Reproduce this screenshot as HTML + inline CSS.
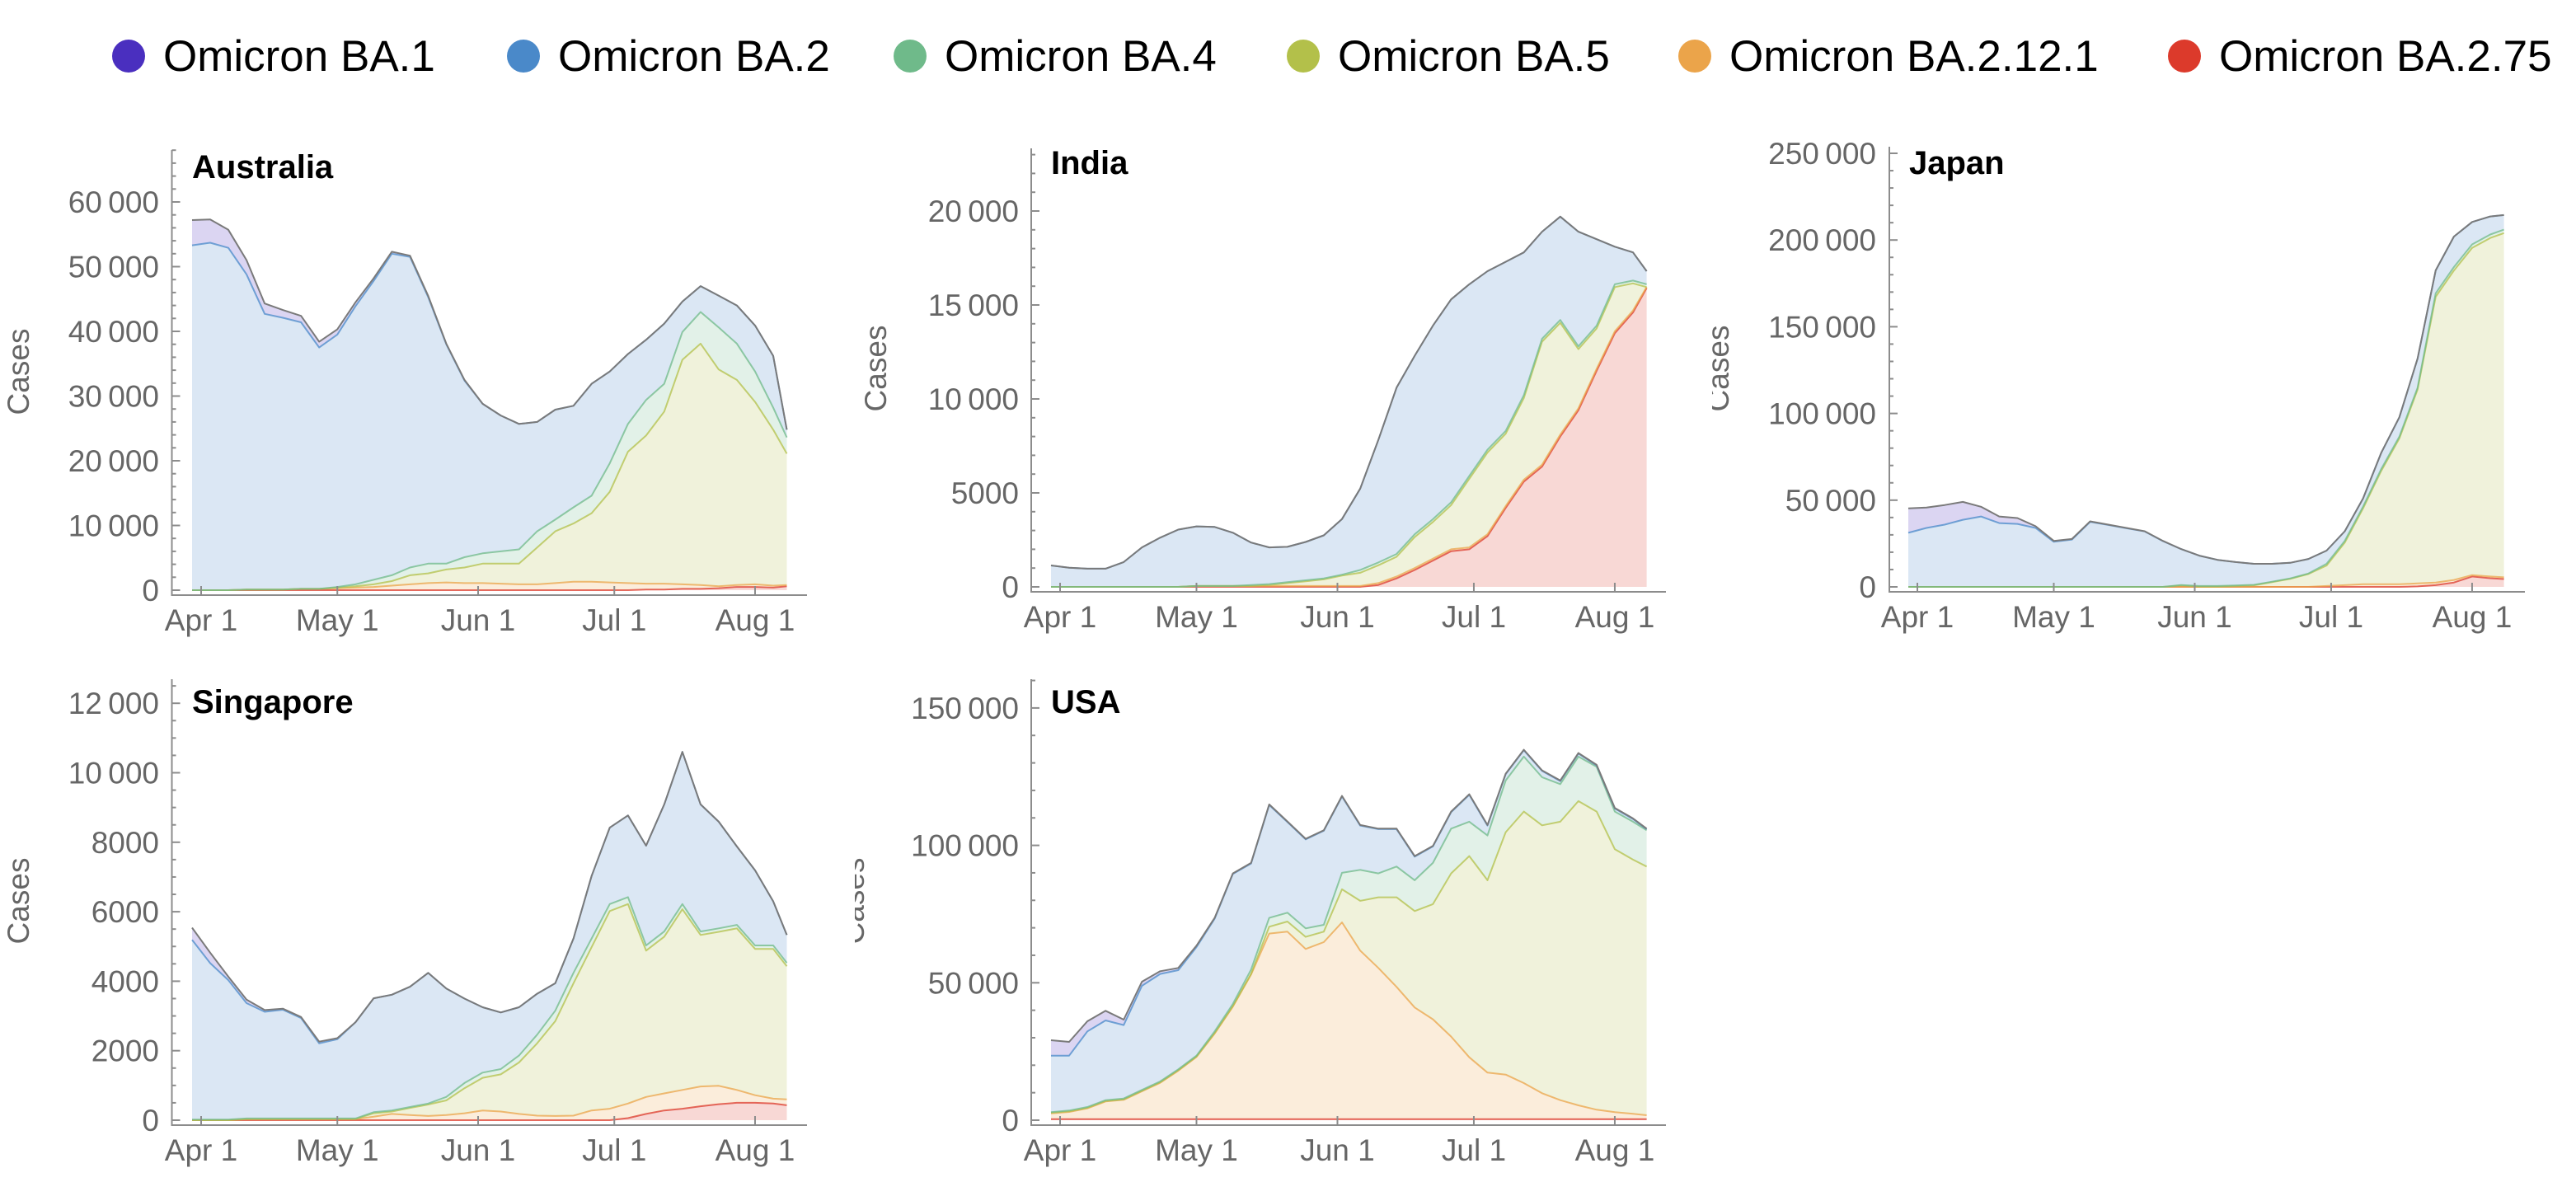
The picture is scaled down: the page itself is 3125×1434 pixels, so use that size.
<!DOCTYPE html>
<html><head><meta charset="utf-8">
<style>
html,body{margin:0;padding:0;background:#fff;}
svg{display:block;font-family:"Liberation Sans",Arial,sans-serif;}
</style></head>
<body>
<svg id="chart" width="3125" height="1434" viewBox="0 0 3125 1434" xmlns="http://www.w3.org/2000/svg">
<rect width="3125" height="1434" fill="#fff"/>
<g id="legend"></g>
<g id="panels"></g>
</svg>
<script>
// ---- data (cases in thousands), sampled every 4 days; day 0 = Apr 1 ----
const days = [-2,2,6,10,14,18,22,26,30,34,38,42,46,50,54,58,62,66,70,74,78,82,86,90,94,98,102,106,110,114,118,122,126,129];
const variantNames = ["Omicron BA.1","Omicron BA.2","Omicron BA.4","Omicron BA.5","Omicron BA.2.12.1","Omicron BA.2.75"];
const tickDates = [0,30,61,91,122];
const tickDateLabels = ["Apr 1","May 1","Jun 1","Jul 1","Aug 1"];

const ausBA1 = [3.9,3.6,2.8,2.2,1.6,1.2,1.0,0.9,0.8,0.6,0.4,0.3,0.2,0.2,0.1,0.1,0,0,0,0,0,0,0,0,0,0,0,0,0,0,0,0,0,0];
const ausBA2 = [53.3,53.7,52.9,48.7,42.6,42.0,41.2,37.3,39.0,43.0,46.2,49.7,48.0,41.2,33.9,27.3,23.1,21.0,19.4,16.9,17.0,15.7,17.3,14.2,10.8,9.3,9.3,4.7,4.0,4.9,5.9,7.1,8.0,1.2];
const ausBA4 = [0,0,0,0,0,0,0,0,0.1,0.3,0.7,0.9,1.2,1.5,0.9,1.6,1.6,1.9,2.2,2.5,1.8,2.5,2.7,4.4,4.3,5.5,4.3,4.3,4.9,6.5,5.6,4.7,3.4,2.5];
const ausBA5 = [0,0,0,0,0,0,0,0,0.1,0.2,0.4,0.7,1.4,1.5,2.0,2.4,3.0,3.1,3.2,5.7,8.0,9.0,10.6,14.0,20.3,22.9,26.6,34.7,37.3,33.5,31.7,28.2,24.1,20.3];
const ausBA2121 = [0,0,0,0.1,0.1,0.1,0.2,0.2,0.3,0.4,0.5,0.7,0.9,1.1,1.2,1.1,1.1,1.0,0.9,0.9,1.1,1.3,1.3,1.2,1.1,0.9,0.9,0.7,0.6,0.3,0.3,0.4,0.3,0.2];
const ausBA275 = [0,0,0,0,0,0,0,0,0,0,0,0,0,0,0,0,0,0,0,0,0,0,0,0,0,0.1,0.1,0.2,0.2,0.3,0.5,0.5,0.4,0.6];

const indBA1 = [0,0,0,0,0,0,0,0,0,0,0,0,0,0,0,0,0,0,0,0,0,0,0,0,0,0,0,0,0,0,0,0,0,0];
const indBA2 = [1.14,1.02,0.97,0.97,1.32,2.10,2.62,3.05,3.17,3.14,2.83,2.26,1.95,1.88,2.04,2.29,2.96,4.33,6.52,8.85,9.5,10.3,10.8,10.2,9.5,9.0,7.6,5.7,5.5,6.1,4.6,2.0,1.5,0.7];
const indBA4 = [0,0,0,0,0,0,0,0,0,0,0,0.05,0.05,0.05,0.05,0.05,0.05,0.15,0.15,0.15,0.15,0.15,0.15,0.15,0.15,0.15,0.15,0.15,0.15,0.15,0.15,0.15,0.15,0.15];
const indBA5 = [0,0,0,0,0,0,0,0,0,0,0,0,0.05,0.15,0.25,0.35,0.55,0.7,0.95,1.05,1.65,1.95,2.35,3.65,4.35,3.85,4.35,6.55,5.95,3.15,2.15,2.35,1.45,0];
const indBA2121 = [0,0,0,0,0,0,0,0,0.05,0.05,0.05,0.05,0.05,0.05,0.05,0.05,0.05,0.05,0.1,0.1,0.1,0.1,0.1,0.1,0.1,0.1,0.1,0.1,0.1,0.1,0.1,0.1,0.1,0.05];
const indBA275 = [0,0,0,0,0,0,0,0,0,0,0,0,0,0,0,0,0,0,0.1,0.45,0.9,1.4,1.9,2.0,2.7,4.2,5.6,6.4,8.0,9.4,11.5,13.5,14.6,15.9];

const jpnBA1 = [14.1,11.7,11.3,10.3,5.6,3.8,3.4,1.0,0.5,0.3,0.3,0.2,0.2,0.1,0.1,0,0,0,0,0,0,0,0,0,0,0,0,0,0,0,0,0,0,0];
const jpnBA2 = [31.2,34.0,35.9,38.7,40.6,36.8,36.3,34.0,26.0,27.3,37.5,35.7,33.8,32.0,26.4,20.7,17.5,15.1,13.5,12.1,10.3,9.0,8.4,7.6,5.6,4.7,9.4,11.2,16.8,13.2,17.6,12.9,10.4,8.4];
const jpnBA4 = [0,0,0,0,0,0,0,0,0,0,0,0,0,0,0,0.3,0.3,0.3,0.3,0.3,0.3,0.3,0.3,1,1,1,1,1,1,2,2,2,2,2];
const jpnBA5 = [0,0,0,0,0,0,0,0,0,0,0,0,0,0,0,0.8,0.2,0.2,0.5,0.9,2.7,4.6,7.4,11.8,24.5,43.7,65.3,84.1,111.8,164.8,178.4,188.7,195.2,198.5];
const jpnBA2121 = [0,0,0,0,0,0,0,0,0,0,0,0,0,0,0,0,0,0,0,0,0,0,0,0.5,1.0,1.5,1.5,1.5,1.7,1.5,1.5,0.8,1.0,1.0];
const jpnBA275 = [0,0,0,0,0,0,0,0,0,0,0,0,0,0,0,0,0,0,0,0,0,0,0,0,0,0,0,0,0.3,1.0,2.5,6.0,5.0,4.5];

const sgpBA1 = [0.35,0.3,0.1,0.1,0.05,0.03,0.03,0.05,0.03,0,0,0,0,0,0,0,0,0,0,0,0,0,0,0,0,0,0,0,0,0,0,0,0,0];
const sgpBA2 = [5.17,4.5,4.01,3.32,3.07,3.13,2.89,2.16,2.28,2.77,3.28,3.33,3.46,3.76,3.12,2.43,1.88,1.63,1.39,1.18,0.79,0.99,1.8,2.2,2.35,2.87,3.66,4.38,3.66,3.07,2.26,2.16,1.27,0.8];
const sgpBA4 = [0.02,0.02,0.02,0.02,0.02,0.02,0.02,0.02,0.02,0.02,0.03,0.03,0.03,0.03,0.1,0.15,0.15,0.15,0.2,0.25,0.3,0.3,0.25,0.2,0.2,0.15,0.15,0.15,0.1,0.1,0.1,0.1,0.1,0.1];
const sgpBA5 = [0,0,0,0,0,0,0,0,0,0,0.1,0.07,0.2,0.33,0.42,0.72,0.94,1.07,1.48,2.08,2.73,3.81,4.7,5.69,5.74,4.21,4.51,5.2,4.36,4.43,4.65,4.21,4.31,3.83];
const sgpBA2121 = [0,0,0,0.03,0.03,0.03,0.03,0.03,0.03,0.03,0.1,0.18,0.15,0.12,0.15,0.2,0.28,0.25,0.18,0.13,0.12,0.13,0.28,0.33,0.42,0.49,0.49,0.54,0.57,0.53,0.37,0.22,0.14,0.17];
const sgpBA275 = [0,0,0,0,0,0,0,0,0,0,0,0,0,0,0,0,0,0,0,0,0,0,0,0,0.06,0.18,0.28,0.33,0.4,0.46,0.5,0.5,0.48,0.43];

const usaBA1 = [5.6,5,3.7,3.5,2,1.5,1.0,0.8,0.5,0.3,0.2,0.2,0.2,0.2,0.2,0.2,0.2,0.2,0.2,0.2,0.2,0.2,0.2,0.2,0.2,0.2,0.2,0.2,0.2,0.2,0.2,0.2,0.2,0.2];
const usaBA2 = [20.6,20.0,27.5,29.0,26.7,37.9,39.1,36.1,39.5,41.0,47.3,38.6,41.1,33.0,32.4,34.2,27.8,16.1,16.1,13.6,8.6,6.0,6.0,9.8,3.6,2.3,2.3,2.3,1.1,1.1,0.5,1.1,1.0,0.4];
const usaBA4 = [0.2,0.3,0.3,0.3,0.3,0.3,0.3,0.3,0.3,0.6,0.8,1.6,3.2,3.2,3.1,2.5,6,11.3,8.7,11.2,11.2,15.0,16.3,12.5,16.3,18.8,20.0,17.5,13.7,16.2,16.3,13.7,13.8,13.2];
const usaBA5 = [0.2,0.2,0.2,0.2,0.2,0.2,0.2,0.2,0.2,0.2,0.2,0.2,2.5,3.7,4.4,3.8,12,18.1,25.7,32.6,35.1,41.9,59.4,73.2,70.0,88.2,98.8,97.5,101.3,110.7,108.5,95.7,92.5,90.5];
const usaBA2121 = [2.1,2.6,3.9,6.4,7.0,10.1,13.2,17.6,22.6,31.1,40.9,52.6,67.5,68.2,61.9,64.4,71.6,61.3,55.0,48.1,40.6,36.3,30.0,22.5,16.9,16.2,13.1,9.4,6.9,5.0,3.4,2.5,1.9,1.4];
const usaBA275 = [0.4,0.4,0.4,0.4,0.4,0.4,0.4,0.4,0.4,0.4,0.4,0.4,0.4,0.4,0.4,0.4,0.4,0.4,0.4,0.4,0.4,0.4,0.4,0.4,0.4,0.4,0.4,0.4,0.4,0.4,0.4,0.4,0.4,0.4];

// ---- styling / layout ----
const NS = "http://www.w3.org/2000/svg";
const colors = ["#4a2fbf","#4a89c9","#6fba8a","#b3c04a","#eba44a","#dc3a2b"];
const legendX = [156,635,1104,1581,2056,2650];

function mk(tag, attrs, parent) {
  const el = document.createElementNS(NS, tag);
  for (const k in attrs) el.setAttribute(k, attrs[k]);
  if (parent) parent.appendChild(el);
  return el;
}
function fmt(v) {
  if (v < 10000) return String(v);
  const s = String(v);
  return s.slice(0, s.length - 3) + "\u2009" + s.slice(s.length - 3);
}

// legend
const legend = document.getElementById("legend");
variantNames.forEach((n, i) => {
  const g = mk("g", {}, legend);
  
  
  const c = mk("circle", {cx: legendX[i], cy: 68, r: 20, fill: colors[i]}, g);
  
  
  const t = mk("text", {x: legendX[i] + 42, y: 86, "font-size": 53, fill: "#000"}, g);
  
  
  t.textContent = n;
});

const panelDefs = [
  {name:"Australia", series:[ausBA1,ausBA2,ausBA4,ausBA5,ausBA2121,ausBA275], xa:208.5, y0:716, yPerK:7.85, apr1:244, dayPx:5.508, top:182, xEnd:979, major:10000, minor:2000, labelR:193, casesX:35, casesY:451, clipX:null, tx:233, ty:216},
  {name:"India", series:[indBA1,indBA2,indBA4,indBA5,indBA2121,indBA275], xa:1251, y0:712, yPerK:22.8, apr1:1286, dayPx:5.516, top:180, xEnd:2021, major:5000, minor:1000, labelR:1236, casesX:1075, casesY:447, clipX:null, tx:1275, ty:211},
  {name:"Japan", series:[jpnBA1,jpnBA2,jpnBA4,jpnBA5,jpnBA2121,jpnBA275], xa:2292, y0:712, yPerK:2.104, apr1:2326, dayPx:5.516, top:178, xEnd:3063, major:50000, minor:10000, labelR:2276, casesX:2097, casesY:447, clipX:2077, tx:2316, ty:211},
  {name:"Singapore", series:[sgpBA1,sgpBA2,sgpBA4,sgpBA5,sgpBA2121,sgpBA275], xa:208.5, y0:1359, yPerK:42.15, apr1:244, dayPx:5.508, top:824, xEnd:979, major:2000, minor:500, labelR:193, casesX:35, casesY:1093, clipX:null, tx:233, ty:865},
  {name:"USA", series:[usaBA1,usaBA2,usaBA4,usaBA5,usaBA2121,usaBA275], xa:1251, y0:1359, yPerK:3.334, apr1:1286, dayPx:5.516, top:824, xEnd:2021, major:50000, minor:10000, labelR:1236, casesX:1048, casesY:1093, clipX:1037, tx:1275, ty:865}
];

const panelsG = document.getElementById("panels");
const defs = mk("defs", {}, document.getElementById("chart"));

panelDefs.forEach((p, pi) => {
  const slug = p.name.toLowerCase();
  const g = mk("g", {}, panelsG);
  
  
  const X = d => p.apr1 + d * p.dayPx;
  const Y = v => p.y0 - v * p.yPerK;
  const axisY = p.y0 + 6;

  const order = [5,4,3,2,1,0];
  const cum = [days.map(() => 0)];
  order.forEach((si, k) => {
    cum.push(days.map((d, i) => cum[k][i] + p.series[si][i]));
  });
  const areaG = mk("g", {}, g);
  
  
  order.forEach((si, k) => {
    const up = cum[k + 1], lo = cum[k];
    let dstr = "M" + days.map((d, i) => X(d).toFixed(1) + "," + Y(up[i]).toFixed(1)).join("L");
    for (let i = days.length - 1; i >= 0; i--) dstr += "L" + X(days[i]).toFixed(1) + "," + Y(lo[i]).toFixed(1);
    dstr += "Z";
    const a = mk("path", {d: dstr, fill: colors[si], "fill-opacity": 0.2, stroke: "none"}, areaG);
    
    
  });
  order.forEach((si, k) => {
    const up = cum[k + 1];
    const isTop = k === order.length - 1;
    const l = mk("path", {d: "M" + days.map((d, i) => X(d).toFixed(1) + "," + Y(up[i]).toFixed(1)).join("L"),
      fill: "none", stroke: isTop ? "#7a7a7a" : colors[si], "stroke-width": 2, "stroke-opacity": isTop ? 1 : 0.75, "stroke-linejoin": "round"}, areaG);
    
    
  });

  const ax = mk("g", {stroke: "#8c8c8c", "stroke-width": 2}, g);
  
  
  const yl = mk("line", {x1: p.xa, y1: p.top, x2: p.xa, y2: axisY + 1}, ax);
  
  
  const xl = mk("line", {x1: p.xa - 1, y1: axisY, x2: p.xEnd, y2: axisY}, ax);
  
  

  const maxV = (p.y0 - p.top) / p.yPerK * 1000;
  for (let v = 0; v <= maxV; v += p.minor) {
    const y = Y(v / 1000);
    const isMajor = v % p.major === 0;
    const t = mk("line", {x1: p.xa, y1: y, x2: p.xa + (isMajor ? 10 : 5), y2: y}, ax);
    
    
    if (isMajor) {
      const lab = mk("text", {x: p.labelR, y: y + 13, "font-size": 37, fill: "#666", "text-anchor": "end", stroke: "none"}, g);
      
      
      lab.textContent = fmt(v);
    }
  }
  tickDates.forEach((d, i) => {
    const x = X(d);
    const t = mk("line", {x1: x, y1: axisY, x2: x, y2: axisY - 11}, ax);
    
    
    const lab = mk("text", {x: x, y: axisY + 43, "font-size": 37, fill: "#666", "text-anchor": "middle"}, g);
    
    
    lab.textContent = tickDateLabels[i];
  });

  const tt = mk("text", {x: p.tx, y: p.ty, "font-size": 40, "font-weight": "bold", fill: "#000"}, g);
  
  
  tt.textContent = p.name;

  // y-axis title (wrapped in an untransformed group so the clip uses page coords)
  const wrap = mk("g", {}, g);
  
  
  if (p.clipX !== null) {
    const cp = mk("clipPath", {id: "clip" + pi, clipPathUnits: "userSpaceOnUse"}, defs);
    mk("rect", {x: p.clipX, y: 0, width: 200, height: 1434}, cp);
    wrap.setAttribute("clip-path", "url(#clip" + pi + ")");
  }
  const yt = mk("text", {x: 0, y: 0, "font-size": 37, fill: "#666", "text-anchor": "middle",
    transform: "translate(" + p.casesX + "," + p.casesY + ") rotate(-90)"}, wrap);
  
  
  yt.textContent = "Cases";
});
</script>
</body></html>
